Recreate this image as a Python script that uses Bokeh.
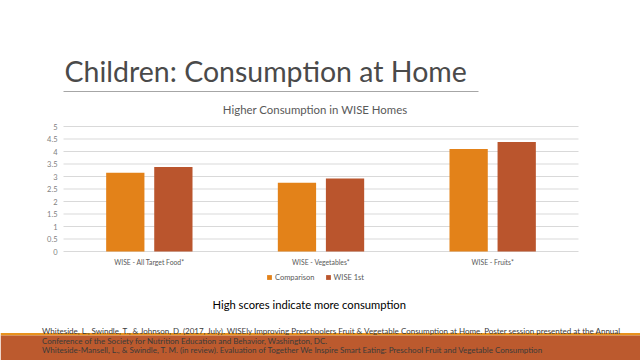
from bokeh.plotting import figure
from bokeh.models import Range1d, Legend, LegendItem, ColumnDataSource
from bokeh.transform import dodge
from bokeh.core.properties import value
from bokeh.embed import file_html
from bokeh.resources import INLINE

# ---- data ----
categories = ["WISE - All Target Food*", "WISE - Vegetables*", "WISE - Fruits*"]
series_names = ["Comparison", "WISE 1st"]
comparison = [3.15, 2.75, 4.1]
wise_1st = [3.38, 2.92, 4.38]
y_ticks = [0, 0.5, 1, 1.5, 2, 2.5, 3, 3.5, 4, 4.5, 5]
y_tick_labels = ["0", "0.5", "1", "1.5", "2", "2.5", "3", "3.5", "4", "4.5", "5"]

slide_title = "Children: Consumption at Home"
chart_title = "Higher Consumption in WISE Homes"
note = "High scores indicate more consumption"
refs = [
    "Whiteside, L., Swindle, T., & Johnson, D. (2017, July). WISEly Improving Preschoolers Fruit & Vegetable Consumption at Home. Poster session presented at the Annual",
    "Conference  of the Society for Nutrition Education and Behavior, Washington, DC.",
    "Whiteside-Mansell, L., & Swindle, T. M. (in review). Evaluation of Together We Inspire Smart Eating: Preschool Fruit and Vegetable Consumption",
]

C_COMP = "#E38219"
C_WISE = "#BA552D"
FONT = "Lato"

# ---- layout geometry (page pixels) ----
W, H = 640, 360
PLOT_L, PLOT_R, PLOT_T, PLOT_B = 63.0, 578.0, 126.0, 251.0
Y_MAX = y_ticks[-1]
n_cat = len(categories)
cw = (PLOT_R - PLOT_L) / n_cat          # pixels per category slot
vu = (PLOT_B - PLOT_T) / Y_MAX          # pixels per value unit

cat_pos = [i + 0.5 for i in range(n_cat)]
src = ColumnDataSource(dict(x=cat_pos, cat=categories, comp=comparison, wise=wise_1st))

p = figure(width=W, height=H, output_backend="svg", toolbar_location=None,
           x_range=Range1d(0, W), y_range=Range1d(H, 0),
           x_axis_location=None, y_axis_location=None, min_border=0,
           outline_line_color=None, title=None)
p.grid.visible = False
p.background_fill_color = "white"
p.border_fill_color = "white"
# chart scales: category slots on x, consumption score on y
p.extra_x_ranges = {"cat": Range1d(-PLOT_L / cw, (W - PLOT_L) / cw)}
p.extra_y_ranges = {"val": Range1d((PLOT_B - H) / vu, PLOT_B / vu)}

# grid lines (the 0 line doubles as the axis line)
p.segment(x0=[0] * len(y_ticks), x1=[n_cat] * len(y_ticks), y0=y_ticks, y1=y_ticks,
          x_range_name="cat", y_range_name="val", line_color="#d9d9d9", line_width=1)

r1 = p.vbar(x=dodge("x", -0.14), top="comp", bottom=0, width=0.223, source=src,
            x_range_name="cat", y_range_name="val", fill_color=C_COMP, line_color=None)
r2 = p.vbar(x=dodge("x", 0.14), top="wise", bottom=0, width=0.223, source=src,
            x_range_name="cat", y_range_name="val", fill_color=C_WISE, line_color=None)

# y tick labels
p.text(x=[0] * len(y_ticks), y=y_ticks, text=y_tick_labels, x_range_name="cat", y_range_name="val",
       x_offset=-6, text_align="right", text_baseline="middle", text_font=value(FONT),
       text_font_size="7.5px", text_color="#7f7f7f")
# category labels
p.text(x="x", y=0, text="cat", source=src, x_range_name="cat", y_range_name="val",
       y_offset=6, text_align="center", text_baseline="top", text_font=value(FONT),
       text_font_size="6.8px", text_color="#595959")

legend = Legend(items=[LegendItem(label=series_names[0], renderers=[r1]),
                       LegendItem(label=series_names[1], renderers=[r2])],
                orientation="horizontal", location=(266, H - 282),
                label_text_font=FONT, label_text_font_size="7.5px", label_text_color="#595959",
                glyph_width=6, glyph_height=6, label_height=10, label_standoff=3, spacing=10,
                padding=3, margin=0, border_line_color=None, background_fill_alpha=0)
p.add_layout(legend)

# header
p.text(x=[64], y=[70], text=[slide_title], text_font=value(FONT), text_font_size="28.5px",
       text_color="#4a4a4a", text_baseline="alphabetic")
p.segment(x0=[63], y0=[91], x1=[478], y1=[91], line_color="#a6a6a6", line_width=1)
p.text(x=[314.7], y=[108.5], text=[chart_title], text_font=value(FONT), text_font_size="11.4px",
       text_color="#595959", text_baseline="middle", text_align="center")

# footer
p.text(x=[308.7], y=[304.3], text=[note], text_font=value(FONT), text_font_size="11.2px",
       text_color="#000000", text_baseline="middle", text_align="center")
p.quad(left=[0], right=[W], top=[332.5], bottom=[335], fill_color="#E8921E", line_color=None)
p.quad(left=[0], right=[W], top=[335], bottom=[H], fill_color="#BC5A2E", line_color=None)
p.text(x=[41.5] * 3, y=[330.5, 340.5, 349], text=refs, text_font=value(FONT),
       text_font_size="8px", text_color="#3a3a3a", text_baseline="middle")

open("out.html", "w").write(file_html(p, INLINE))
